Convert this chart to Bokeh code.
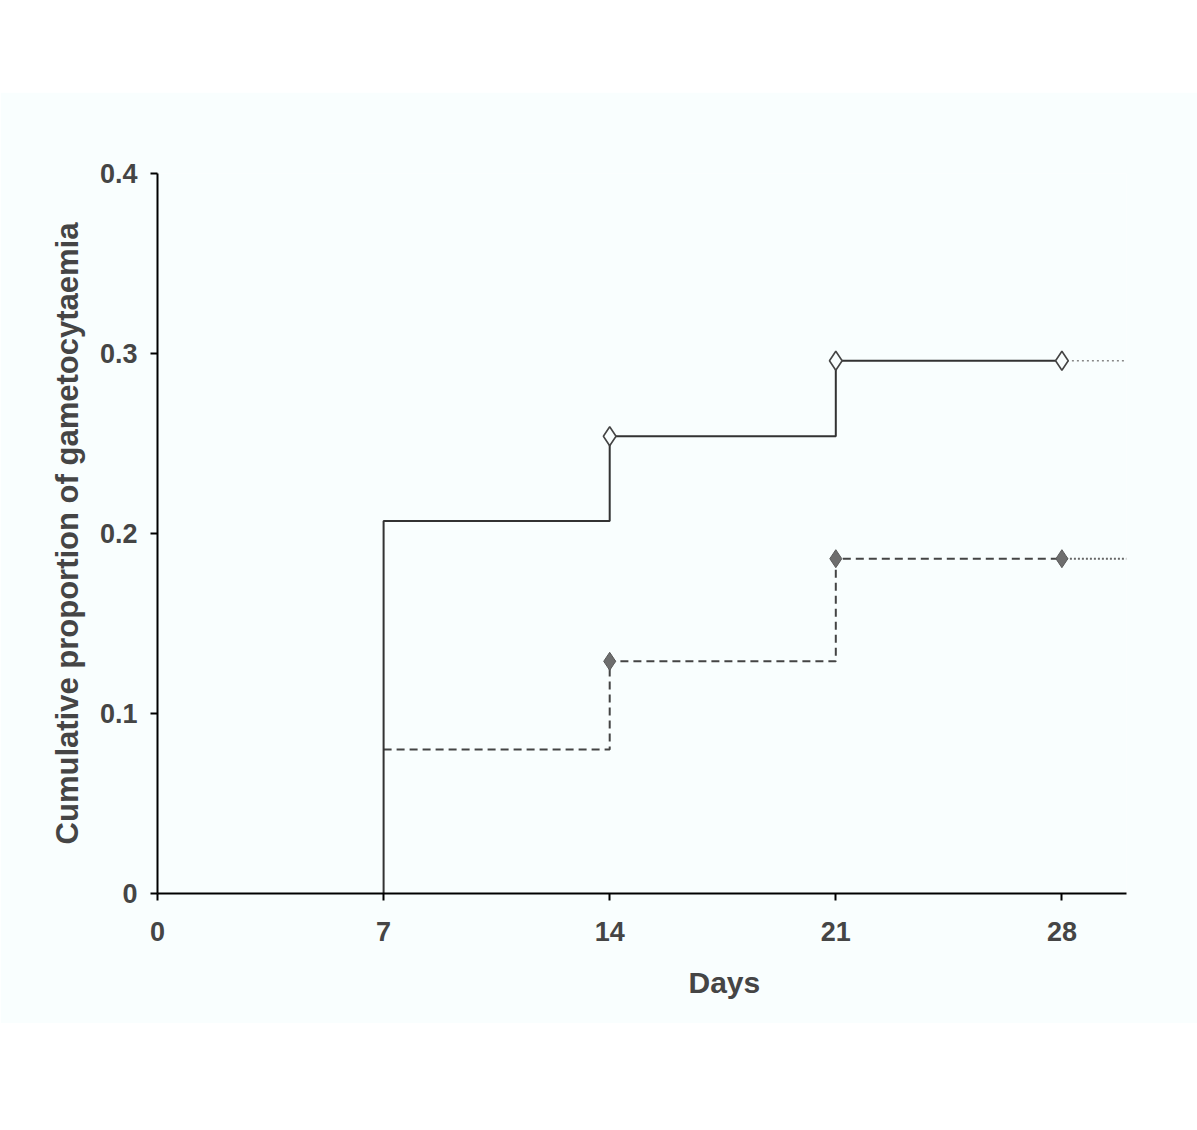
from bokeh.plotting import figure
from bokeh.models import Range1d, FixedTicker, Spacer, Title
from bokeh.layouts import column
from bokeh.embed import file_html
from bokeh.resources import INLINE

# ---- data ----
days = [7, 14, 21, 28]
group_a = [0.207, 0.254, 0.296, 0.296]   # solid line, open diamonds
group_b = [0.080, 0.129, 0.186, 0.186]   # dashed line, filled diamonds
marker_days = [14, 21, 28]
x_ticks = [0, 7, 14, 21, 28]
y_ticks = [0, 0.1, 0.2, 0.3, 0.4]
y_tick_labels = ["0", "0.1", "0.2", "0.3", "0.4"]
x_end = 30

BG = "#F9FEFE"
TXT = "#454545"
FONT = "Liberation Sans"

p = figure(width=1197, height=931, output_backend="svg", toolbar_location=None,
           x_range=Range1d(0, x_end), y_range=Range1d(0, 0.4),
           min_border_left=157, min_border_right=71,
           min_border_top=81, min_border_bottom=130,
           background_fill_color=BG, border_fill_color=BG)
p.outline_line_color = None
p.grid.visible = False

# step curves (starting at zero at day 7)
xa = [days[0]] + days
ya = [0] + group_a
xb = days
yb = group_b

p.step(xb, yb, mode="after", line_color="#444444", line_width=2, line_dash="8 5")
p.step(xa, ya, mode="after", line_color="#333333", line_width=2)

# dotted continuation after last observation
p.line([days[-1], x_end], [group_a[-1], group_a[-1]], line_color="#888888",
       line_width=1.5, line_dash="2 3")
p.line([days[-1], x_end], [group_b[-1], group_b[-1]], line_color="#666666",
       line_width=2, line_dash="2 2")

ma = [group_a[days.index(d)] for d in marker_days]
mb = [group_b[days.index(d)] for d in marker_days]
p.scatter(marker_days, ma, marker="diamond", size=19, fill_color=BG,
          line_color="#444444", line_width=1.6)
p.scatter(marker_days, mb, marker="diamond", size=18, fill_color="#6e6e6e",
          line_color="#5a5a5a", line_width=1)

# axes
p.xaxis.ticker = FixedTicker(ticks=x_ticks)
p.yaxis.ticker = FixedTicker(ticks=y_ticks)
p.yaxis.major_label_overrides = {t: l for t, l in zip(y_ticks, y_tick_labels)}
for ax in (p.xaxis[0], p.yaxis[0]):
    ax.axis_line_color = "black"
    ax.axis_line_width = 2
    ax.major_tick_line_color = "black"
    ax.major_tick_line_width = 2
    ax.major_tick_in = 0
    ax.major_tick_out = 7
    ax.minor_tick_line_color = None
    ax.major_label_text_font = FONT
    ax.major_label_text_font_style = "bold"
    ax.major_label_text_font_size = "27px"
    ax.major_label_text_color = TXT
    ax.axis_label_text_font = FONT
    ax.axis_label_text_font_style = "bold"
    ax.axis_label_text_font_size = "31px"
    ax.axis_label_text_color = TXT

p.yaxis.axis_label = "Cumulative proportion of gametocytaemia"
p.xaxis.major_label_standoff = 21
p.yaxis.major_label_standoff = 13
p.yaxis.axis_label_standoff = 12

p.add_layout(Title(text="Days", align="left", offset=531, standoff=40,
                   text_font=FONT, text_font_style="bold", text_font_size="30px",
                   text_color=TXT), "below")

layout = column(Spacer(height=92, width=1197), p)
open("out.html", "w").write(file_html(layout, INLINE))
